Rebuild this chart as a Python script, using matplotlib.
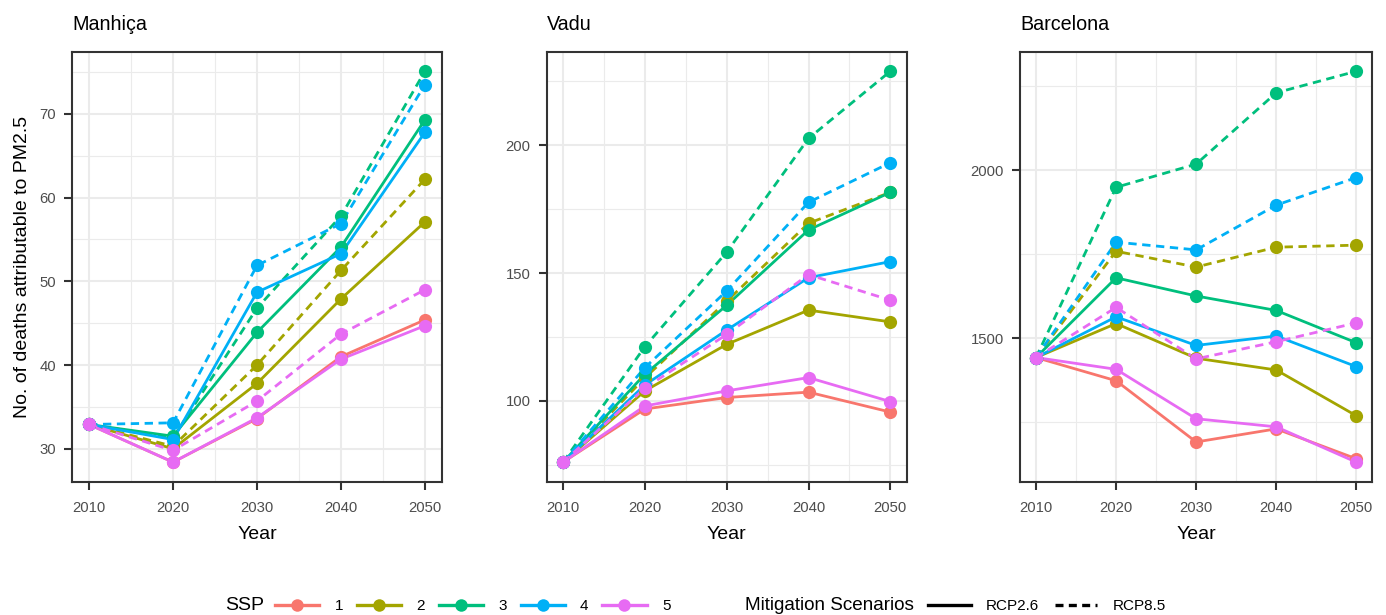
"""PM2.5 attributable deaths by SSP and mitigation scenario for three cities."""

import matplotlib

matplotlib.use("Agg")
import matplotlib.pyplot as plt
from matplotlib.lines import Line2D
from matplotlib.ticker import MultipleLocator

plt.rcParams["font.family"] = ["Liberation Sans", "DejaVu Sans"]

YEARS = [2010, 2020, 2030, 2040, 2050]
SSP_LABELS = ["1", "2", "3", "4", "5"]
SCENARIO_LABELS = ["RCP2.6", "RCP8.5"]
CITIES = ["Manhiça", "Vadu", "Barcelona"]

# one row per SSP (1..5); SSP1 has no RCP8.5 run
MANHICA_RCP26 = [
    [32.9, 28.4, 33.6, 41.0, 45.4],
    [32.9, 30.0, 37.8, 47.9, 57.1],
    [32.9, 31.5, 43.9, 54.1, 69.3],
    [32.9, 31.1, 48.7, 53.3, 67.8],
    [32.9, 28.4, 33.7, 40.7, 44.7],
]
MANHICA_RCP85 = [
    None,
    [32.9, 30.3, 40.0, 51.3, 62.2],
    [32.9, 31.3, 46.8, 57.8, 75.1],
    [32.9, 33.1, 51.9, 56.9, 73.5],
    [32.9, 29.8, 35.7, 43.7, 49.0],
]
VADU_RCP26 = [
    [76.0, 96.8, 101.3, 103.4, 95.6],
    [76.0, 103.9, 122.1, 135.5, 130.9],
    [76.0, 110.4, 137.4, 166.9, 181.6],
    [76.0, 106.2, 127.7, 148.2, 154.5],
    [76.0, 98.0, 103.9, 109.1, 99.7],
]
VADU_RCP85 = [
    None,
    [76.0, 109.0, 139.0, 169.5, 181.6],
    [76.0, 121.2, 158.2, 202.7, 229.0],
    [76.0, 113.0, 143.0, 177.7, 193.2],
    [76.0, 105.0, 126.0, 149.4, 139.4],
]
BARCELONA_RCP26 = [
    [1443, 1374, 1192, 1231, 1142],
    [1443, 1544, 1441, 1406, 1270],
    [1443, 1680, 1626, 1583, 1487],
    [1443, 1564, 1479, 1507, 1416],
    [1443, 1408, 1261, 1237, 1132],
]
BARCELONA_RCP85 = [
    None,
    [1443, 1759, 1712, 1771, 1777],
    [1443, 1949, 2018, 2230, 2294],
    [1443, 1786, 1763, 1896, 1978],
    [1443, 1592, 1439, 1490, 1546],
]
Y_MAJOR = [10, 50, 500]

SSP_COLORS = ["#F8766D", "#A3A500", "#00BF7D", "#00B0F6", "#E76BF3"]
DASHED = (0, (3, 2))
LINE_W = 2.0
MARKER_S = 9.5
GRID = "#EBEBEB"
DARK = "#333333"
TICK_TEXT = "#4D4D4D"

W, H = 1386, 615
# axes boxes in pixels: left, right (top/bottom shared)
PANEL_X = [(72.3, 441.7), (546.7, 906.7), (1020.0, 1372.3)]
TOP, BOTTOM = 51.7, 481.7


def draw_panel(ax, title, rcp26, rcp85, major):
    for i, color in enumerate(SSP_COLORS):
        ax.plot(YEARS, rcp26[i], color=color, lw=LINE_W, zorder=2)
        if rcp85[i] is not None:
            ax.plot(YEARS, rcp85[i], color=color, lw=LINE_W, linestyle=DASHED, zorder=2)
    for i, color in enumerate(SSP_COLORS):
        ax.plot(YEARS, rcp26[i], "o", color=color, ms=MARKER_S, mew=0, zorder=3)
        if rcp85[i] is not None:
            ax.plot(YEARS, rcp85[i], "o", color=color, ms=MARKER_S, mew=0, zorder=3)

    ax.margins(0.05)
    ax.xaxis.set_major_locator(MultipleLocator(10))
    ax.xaxis.set_minor_locator(MultipleLocator(5))
    ax.yaxis.set_major_locator(MultipleLocator(major))
    ax.yaxis.set_minor_locator(MultipleLocator(major / 2))
    ax.grid(which="major", color=GRID, lw=1.5, zorder=0)
    ax.grid(which="minor", color=GRID, lw=0.8, zorder=0)
    ax.set_axisbelow(True)
    for spine in ax.spines.values():
        spine.set_color(DARK)
        spine.set_linewidth(1.5)
    ax.tick_params(which="major", length=6, width=1.5, color=DARK,
                   labelsize=10.7, labelcolor=TICK_TEXT)
    ax.tick_params(axis="x", pad=8)
    ax.tick_params(axis="y", pad=5.5)
    ax.tick_params(which="minor", length=0)
    ax.set_xlabel("Year", fontsize=14, labelpad=8)
    ax.set_title(title, loc="left", fontsize=14.2, pad=0, y=1.0505)


fig = plt.figure(figsize=(W / 100, H / 100), dpi=100)
panels = zip(CITIES, [MANHICA_RCP26, VADU_RCP26, BARCELONA_RCP26],
             [MANHICA_RCP85, VADU_RCP85, BARCELONA_RCP85], Y_MAJOR, PANEL_X)
axes = []
for city, rcp26, rcp85, major, (x0, x1) in panels:
    ax = fig.add_axes([x0 / W, 1 - BOTTOM / H, (x1 - x0) / W, (BOTTOM - TOP) / H])
    draw_panel(ax, city, rcp26, rcp85, major)
    axes.append(ax)

axes[0].set_ylabel("No. of deaths attributable to PM2.5", fontsize=14)
axes[0].yaxis.set_label_coords(-0.113, 0.5)

# bottom legends
legend_y = 1 - 606 / H
fig.text(225 / W, legend_y, "SSP", fontsize=14, va="center", ha="left")
ssp_handles = [Line2D([], [], color=c, lw=2.4, marker="o", ms=9, mew=0) for c in SSP_COLORS]
fig.legend(ssp_handles, SSP_LABELS, loc="center left", bbox_to_anchor=(275 / W, legend_y),
           ncol=5, frameon=False, fontsize=11, handlelength=2.9, handletextpad=1.0,
           columnspacing=0.9, borderpad=0, borderaxespad=0)

fig.text(745 / W, legend_y, "Mitigation Scenarios", fontsize=13.6, va="center", ha="left")
scen_handles = [Line2D([], [], color="black", lw=2.4),
                Line2D([], [], color="black", lw=2.4, linestyle=(0, (2.4, 1.6)))]
fig.legend(scen_handles, SCENARIO_LABELS, loc="center left", bbox_to_anchor=(928 / W, legend_y),
           ncol=2, frameon=False, fontsize=11, handlelength=2.8, handletextpad=1.0,
           columnspacing=1.0, borderpad=0, borderaxespad=0)

fig.savefig("out.png", dpi=100, facecolor="white")
